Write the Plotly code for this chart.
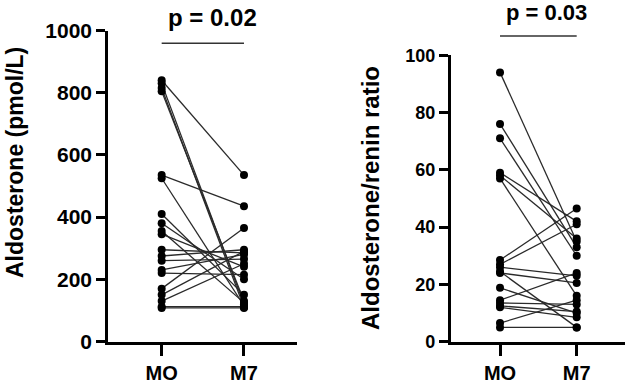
import plotly.graph_objects as go

groups = ["MO", "M7"]
aldo_mo = [840, 830, 815, 805, 535, 525, 410, 380, 355, 345, 295, 275, 260, 230, 220, 170, 150, 130, 112, 108]
aldo_m7 = [535, 120, 110, 130, 435, 115, 150, 200, 125, 240, 285, 295, 265, 280, 215, 365, 290, 250, 112, 108]
arr_mo = [94, 76, 71, 59, 58, 57, 28.5, 27, 26, 24.5, 24, 18.8, 14.5, 13.5, 12.5, 12, 6.5, 5]
arr_m7 = [35, 33, 30, 42, 36, 16, 46.5, 41, 23, 5, 20.5, 10, 24, 13, 10.5, 8.5, 14.5, 5]
aldo_ticks = [0, 200, 400, 600, 800, 1000]
arr_ticks = [0, 20, 40, 60, 80, 100]
p_labels = ["p = 0.02", "p = 0.03"]
y_titles = ["Aldosterone (pmol/L)", "Aldosterone/renin ratio"]

W, H = 630, 386
FONT = "Liberation Sans, Arial, sans-serif"

fig = go.Figure()


def add_panel(mo, m7, xa, ya):
    lx, ly = [], []
    for a, b in zip(mo, m7):
        lx += [0, 1, None]
        ly += [a, b, None]
    fig.add_trace(go.Scatter(x=lx, y=ly, mode="lines", xaxis=xa, yaxis=ya,
                             line=dict(color="#2a2a2a", width=1.3),
                             showlegend=False, hoverinfo="skip"))
    fig.add_trace(go.Scatter(x=[0] * len(mo) + [1] * len(m7), y=mo + m7,
                             mode="markers", xaxis=xa, yaxis=ya,
                             marker=dict(color="black", size=8),
                             showlegend=False, cliponaxis=False))


add_panel(aldo_mo, aldo_m7, "x", "y")
add_panel(arr_mo, arr_m7, "x2", "y2")


def axis_common(size, ticklen):
    return dict(showline=True, linecolor="black", linewidth=2.5,
                ticks="outside", ticklen=ticklen, tickwidth=2.5, tickcolor="black",
                showgrid=False, zeroline=False, automargin=False,
                tickfont=dict(family=FONT, size=size, color="black", weight="bold"))


fig.update_layout(
    width=W, height=H,
    margin=dict(l=0, r=0, t=0, b=0),
    paper_bgcolor="white", plot_bgcolor="white",
    xaxis=dict(domain=[108 / W, 297 / W], range=[-0.652, 1.644],
               tickvals=[0, 1], ticktext=groups, anchor="y", **axis_common(20, 12)),
    yaxis=dict(domain=[(H - 341.5) / H, (H - 30.5) / H], range=[0, 1000],
               tickvals=aldo_ticks, anchor="x", **axis_common(21, 9)),
    xaxis2=dict(domain=[450.7 / W, 625 / W], range=[-0.643, 1.63],
                tickvals=[0, 1], ticktext=groups, anchor="y2", **axis_common(20, 12)),
    yaxis2=dict(domain=[(H - 341.7) / H, (H - 55.2) / H], range=[0, 100],
                tickvals=arr_ticks, anchor="x2", **axis_common(18, 9)),
)

# y-axis titles
fig.add_annotation(text=y_titles[0], x=15 / W, y=(H - 163) / H, xref="paper", yref="paper",
                   textangle=-90, showarrow=False, xanchor="center", yanchor="middle",
                   font=dict(family=FONT, size=23, color="black", weight="bold"))
fig.add_annotation(text=y_titles[1], x=370 / W, y=(H - 198) / H, xref="paper", yref="paper",
                   textangle=-90, showarrow=False, xanchor="center", yanchor="middle",
                   font=dict(family=FONT, size=24, color="black", weight="bold"))

# significance bars and p labels
fig.add_shape(type="line", xref="x", yref="paper", x0=0, x1=1,
              y0=(H - 43.3) / H, y1=(H - 43.3) / H, line=dict(color="#333", width=1.5))
fig.add_annotation(text=p_labels[0], xref="paper", yref="paper", x=212 / W, y=(H - 17) / H,
                   showarrow=False, xanchor="center", yanchor="middle",
                   font=dict(family=FONT, size=24, color="black", weight="bold"))
fig.add_shape(type="line", xref="x2", yref="paper", x0=0, x1=1,
              y0=(H - 36) / H, y1=(H - 36) / H, line=dict(color="#333", width=1.5))
fig.add_annotation(text=p_labels[1], xref="paper", yref="paper", x=546.5 / W, y=(H - 12) / H,
                   showarrow=False, xanchor="center", yanchor="middle",
                   font=dict(family=FONT, size=22, color="black", weight="bold"))

fig.write_html("out.html", config={"displayModeBar": False},
               post_script="document.body.style.margin='0';")
